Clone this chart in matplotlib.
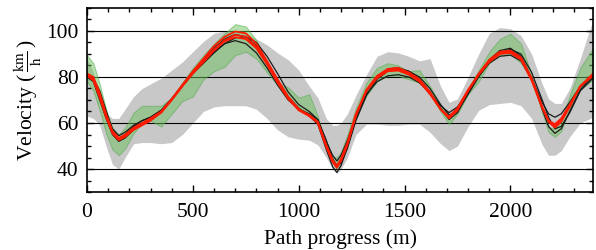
import numpy as np
import matplotlib
matplotlib.use('Agg')
import matplotlib.pyplot as plt
from matplotlib.ticker import MultipleLocator

dist = [0, 30, 60, 90, 120, 150, 180, 220, 260, 300, 350, 400, 450, 500, 550,
        600, 650, 700, 750, 800, 850, 900, 950, 1000, 1050, 1090, 1130, 1160,
        1180, 1200, 1230, 1270, 1320, 1370, 1420, 1470, 1520, 1570, 1620, 1670,
        1710, 1750, 1800, 1850, 1900, 1950, 2000, 2050, 2100, 2150, 2180, 2210,
        2240, 2280, 2330, 2390]

# grey envelope
grey_hi = [88, 82, 70, 64, 62, 62, 66, 71.5, 75, 77, 79.5, 83, 86.5, 91, 95.5,
           99, 100, 100, 99, 96.5, 94, 90.5, 87.5, 83, 76, 71, 62, 59,
           59, 60, 64, 72, 81, 89, 91, 90.5, 89, 87, 88, 76,
           69, 70.5, 80, 90, 99, 101.5, 101, 98, 90, 77, 70.5, 68.5,
           68.5, 75, 88, 105]
grey_lo = [63, 62, 59, 50, 42, 40, 45, 51, 51.5, 51.5, 51, 51.5, 55, 60, 65,
           67, 67.5, 67.5, 67.5, 66, 62, 57, 54, 53, 52.5, 50.5, 45, 40,
           38, 40, 45, 55, 59.5, 59.5, 59, 59, 59.5, 59.5, 56, 51,
           48, 50, 58.5, 65.5, 68, 68.5, 69, 67.5, 62, 50.5, 46, 46,
           48, 54, 60, 62.5]

# green band
green_hi = [89.5, 86, 77, 66, 58, 55, 58, 64.5, 67.5, 67.5, 67.5, 71, 77.5, 84, 89.5,
            94.5, 99, 103, 102, 96, 86, 77.5, 75.5, 71, 72.5, 63, 50, 45.5,
            45, 47.5, 55, 66.5, 77.5, 84, 86, 85, 82.5, 83, 76, 68,
            63.5, 66.5, 75, 83, 91, 96.5, 98.8, 94.5, 81, 64.5, 58, 57.5,
            61, 72, 84, 92.5]
green_lo = [78, 74, 65.5, 55.5, 48.5, 46, 49, 55.5, 60, 61, 58.5, 64, 69.5, 71.5, 79,
            82.5, 84.5, 89.5, 91, 88, 82, 76.5, 70, 66.5, 64.5, 61, 51, 43,
            40, 43, 51, 62.5, 72, 78, 80.5, 80.5, 79, 77.5, 72.5, 65,
            59.5, 64, 72.5, 78, 86, 89.5, 90, 86, 78.5, 65, 56, 54,
            56.5, 66.5, 74.5, 79]

# black runs
black_runs = [
    [80, 78.5, 72, 64.5, 57.5, 54.5, 56, 59, 61, 62.5, 65.5, 70.5, 76, 81.5, 86.5,
     91, 94.5, 95.8, 94.5, 90.5, 84, 76.5, 70, 66, 64, 61.5, 52, 46,
     43.5, 46, 52.5, 63, 72.5, 78, 80.5, 81, 80, 77.5, 73, 67.5,
     64.5, 67, 74, 80.5, 86, 89, 89.5, 87, 79.5, 69, 64, 62.5,
     64, 69, 76, 80],
    [80.5, 79.5, 74, 65.5, 57, 53, 55, 58.5, 61, 62.5, 65.5, 70.5, 76, 81.5, 86,
     90.5, 94.5, 97, 97.5, 95, 89, 81.5, 73.5, 68, 65, 61.5, 52.5, 44.5,
     41.5, 42.5, 49, 61, 72, 79, 82.5, 83.5, 82.5, 80, 75, 68,
     63.5, 65, 72.5, 80, 86.5, 90.5, 92, 90, 82, 70, 62.5, 57.5,
     58.5, 64.5, 74, 79.5],
    [80, 78, 70, 62, 55, 52, 53.5, 57, 59.5, 61.5, 65, 70.5, 76.5, 82.5, 87.5,
     92.5, 96.5, 98.5, 97.5, 93.5, 86.5, 78.5, 71.5, 66.5, 63, 59.5, 48.5, 41,
     38.5, 41.5, 49.5, 62, 73.5, 80, 83.5, 84, 82.5, 79, 73.5, 66.5,
     61.5, 64.5, 73, 81, 87.5, 91.5, 92.5, 89, 79.5, 66, 58.5, 55.5,
     57.5, 65, 74.5, 80.5],
]

# red runs
red_runs = [
    [81, 79, 71.5, 63, 56, 53, 54.5, 57.5, 59.5, 61.5, 64.5, 70, 76, 82, 87,
     92, 96, 98.3, 97.5, 93, 86, 78, 71, 66, 63.5, 60.5, 50, 43.5,
     41, 44, 51, 63.5, 74, 80, 83, 83.3, 81.5, 78.5, 73, 66,
     62.3, 66, 74, 81, 87, 90.5, 91, 88, 79, 67, 61, 58.8,
     61.5, 67.5, 76, 81],
    [81.5, 80, 73, 64, 56.5, 53.5, 55, 58, 60, 62, 65, 70.5, 76.5, 82.5, 88,
     93.5, 97.5, 99.8, 99, 94.5, 87, 79, 71.5, 66, 63, 60, 49.5, 43,
     40.5, 43.5, 50.5, 63, 74.5, 80.5, 83.5, 84, 82, 79, 73.5, 66,
     62, 65.5, 74, 81.5, 87.5, 91, 91.5, 88.5, 79.5, 67, 60.5, 58,
     60.5, 67, 76, 81.5],
    [80.5, 78.5, 71, 62.5, 55.5, 52.5, 54, 57, 59, 61, 64.5, 70, 76, 81.5, 86.5,
     91.5, 95.5, 97.3, 96.5, 92.5, 85.5, 77.5, 70.5, 65.5, 63, 60.5, 50.5, 44,
     41.5, 44.5, 51.5, 64, 74, 79.5, 82.5, 82.8, 81, 78, 72.5, 66,
     62.8, 66.5, 74.5, 81, 86.5, 90, 90.5, 87.5, 78.5, 66.5, 61, 59.5,
     62, 68, 76, 80.5],
]

plt.rcParams['font.family'] = 'Liberation Serif'
plt.rcParams['mathtext.fontset'] = 'stix'

fig = plt.figure(figsize=(5.96, 2.5), dpi=100)
ax = fig.add_axes([0.146, 0.232, 0.849, 0.736])

ax.fill_between(dist, grey_lo, grey_hi, color='#c8c8c8', lw=0, zorder=1)
ax.fill_between(dist, green_lo, green_hi, facecolor='#6cc25e', alpha=0.5,
                edgecolor='#4aa544', lw=0.7, zorder=1.8)
for run in black_runs:
    ax.plot(dist, run, color='#1a1a1a', lw=0.9, zorder=2)
for run in red_runs:
    ax.plot(dist, run, color='#ff1a00', lw=1.3, zorder=2.2)

ax.set_xlim(0, 2390)
ax.set_ylim(30, 110)
ax.xaxis.set_major_locator(MultipleLocator(500))
ax.xaxis.set_minor_locator(MultipleLocator(100))
ax.yaxis.set_minor_locator(MultipleLocator(5))
ax.set_yticks([40, 60, 80, 100])
ax.tick_params(which='both', direction='in', top=True, right=True, labelsize=15.5, width=1)
ax.tick_params(which='major', length=5, pad=6)
ax.tick_params(axis='x', which='major', pad=8)
ax.tick_params(which='minor', length=3)
ax.set_axisbelow('line')
ax.grid(axis='y', which='major', color='black', lw=0.8)
for s in ax.spines.values():
    s.set_linewidth(1.2)

ax.set_xlabel('Path progress (m)', fontsize=15.5, labelpad=5)
ax.set_ylabel(r'Velocity ($\,\frac{\mathrm{km}}{\mathrm{h}}\,$)', fontsize=15.5, labelpad=2)

fig.savefig('out.png', dpi=100)
